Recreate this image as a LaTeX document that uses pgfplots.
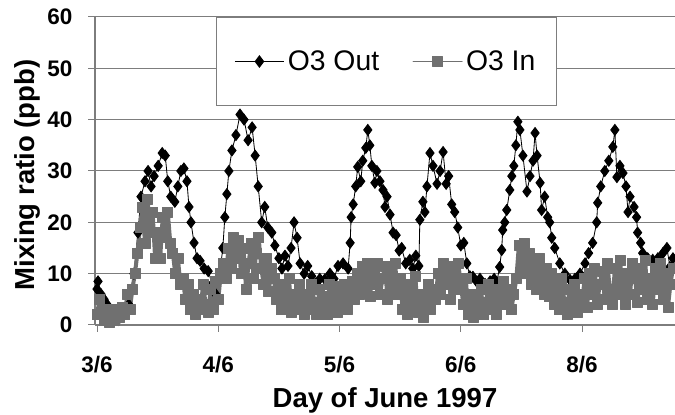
\documentclass[border=0pt]{standalone}
\usepackage{fontspec}
\setmainfont{Liberation Sans}
\usepackage{pgfplots}
\pgfplotsset{compat=1.18}
\definecolor{ingray}{RGB}{112,112,112}
\definecolor{gridgray}{RGB}{125,125,125}
\begin{document}
\begin{tikzpicture}
\useasboundingbox (-57pt,-54pt) rectangle (348pt,195pt);
\begin{axis}[
  scale only axis, width=348pt, height=184.8pt,
  xmin=-0.4, xmax=114.4, ymin=0, ymax=60,
  ytick={0,10,...,60},
  xtick={0,24,48,72,96}, xticklabels={3/6,4/6,5/6,6/6,8/6},
  axis lines*=left,
  axis line style={gridgray, line width=0.7pt},
  ymajorgrids, grid style={gridgray, line width=0.6pt},
  tick align=outside, major tick length=4pt,
  tick style={gridgray, line width=0.6pt},
  /pgf/number format/assume math mode=true,
  tick label style={font=\bfseries\fontsize{13.5}{14}\selectfont},
  xticklabel shift=11pt,
  yticklabel shift=6pt,
  xlabel={Day of June 1997},
  ylabel={Mixing ratio (ppb)},
  xlabel style={at={(axis description cs:0.5,-0.244)}, anchor=center, font=\bfseries\fontsize{16.5}{18}\selectfont},
  ylabel style={at={(axis description cs:-0.117,0.487)}, anchor=center, font=\bfseries\fontsize{16.5}{18}\selectfont},
  clip=false,
  legend columns=2,
  legend style={at={(axis description cs:0.5026,0.8555)}, anchor=center,
    draw=gridgray, line width=0.6pt, fill=white, font=\fontsize{17}{19}\selectfont,
    inner xsep=11pt, inner ysep=18pt,
    /tikz/every even column/.append style={column sep=18pt}},
  legend image code/.code={\draw[mark repeat=2,mark phase=2,#1,line width=0.7pt] plot coordinates {(0pt,0pt) (14.7pt,0pt) (29.4pt,0pt)};},
]
\addplot[black, line width=0.5pt, mark=diamond*, mark size=3.3pt, mark options={solid, fill=black}] coordinates {
(0,7) (0.2,8.5) (0.8,6) (1.4,5) (2.0,4) (3.0,2) (4.2,1) (5.3,2) (6.3,4) (7.3,10) (8.1,18) (8.7,25) (9.5,28) (10.1,30) (10.7,27) (11.3,29) (12.1,31) (12.9,33.5) (13.5,33) (14.0,28) (14.6,25) (15.4,24) (16.0,27) (16.6,30) (17.2,30.5) (17.8,28) (18.2,23) (18.6,20) (19.2,16) (19.8,13) (20.4,12.5) (21.2,11) (22.0,10.5) (22.8,8) (23.5,6) (24.3,10) (24.9,15) (25.3,21) (25.7,25.5) (26.1,30) (26.7,34) (27.5,37) (28.3,41) (29.1,40) (29.9,36) (30.7,38.5) (31.3,33) (31.9,27) (32.6,20) (33.2,23) (33.8,19) (34.6,18) (35.2,15.5) (36.0,13) (36.6,11) (37.2,13.5) (37.8,11.5) (38.4,15) (39.0,20) (39.6,17) (40.2,12) (41.0,10) (41.7,11.5) (42.5,9.5) (43.3,8) (44.1,9) (45.1,8.9) (46.1,10) (46.9,9) (47.7,11.5) (48.7,12) (49.7,11) (50.1,16) (50.3,21) (50.7,23.5) (51.2,27) (51.6,30.8) (52.2,28) (52.6,32) (53.2,34.5) (53.6,38) (54.0,35) (54.4,31) (55.0,27.7) (55.4,30) (56.0,28) (56.6,26.3) (57.0,23) (57.4,25) (58.0,21.5) (58.6,18) (59.2,17.5) (59.8,14.5) (60.3,15) (61.1,12) (61.9,12.7) (62.5,11) (63.1,13.5) (63.7,11.5) (63.9,20.5) (64.5,24) (64.9,22) (65.3,27) (65.9,33.5) (66.5,31) (67.3,27.5) (67.9,30) (68.5,33.7) (69.1,27.5) (69.6,29) (70.2,23.5) (70.8,22) (71.4,19) (72.0,15.5) (72.6,16) (73.2,12) (73.8,9.5) (74.4,9.4) (75.2,8.4) (75.8,9) (76.8,8) (77.8,8.5) (78.6,9) (79.1,8.2) (79.7,11.3) (80.1,14.6) (80.3,18.5) (80.7,20) (81.1,22.4) (81.7,26.3) (82.1,29) (82.5,31) (82.9,35) (83.3,39.6) (83.7,38) (84.3,33) (85.1,26) (85.7,29) (86.3,32) (86.7,37.4) (87.1,33) (87.7,27.7) (88.0,22.4) (88.6,25) (89.2,21) (89.6,20) (90.0,17) (90.6,15) (91.6,12) (92.6,10) (93.6,8.8) (94.6,9) (95.6,10) (96.6,12) (97.3,14) (98.1,16) (98.9,20) (99.1,23.8) (99.7,27) (100.5,30) (101.3,32) (102.1,34.7) (102.5,38) (102.9,28.8) (103.5,31) (104.1,29.6) (104.7,27) (105.1,22) (105.5,25) (106.3,23) (106.8,21) (107.0,18) (107.6,16) (108.0,14) (109.0,13) (110.0,12.7) (111.0,13) (112.0,14) (112.8,15) (113.4,11.3) (114.0,13)
};
\addlegendentry{O3 Out}
\addplot[ingray, line width=2.4pt, line join=round, line cap=round, mark=square*, mark size=3pt, mark options={solid, fill=ingray, draw=ingray, line width=0.4pt}] coordinates {
(0,2) (0.5,5) (1,3) (1.5,1) (2,3) (2.5,0.5) (3,2.5) (3.5,1) (4,3) (4.5,1.5) (5,3.5) (5.5,2) (6,6) (6.5,3) (7,7) (7.5,10) (8,14) (8.5,19) (9,23) (9.5,16) (10,24.5) (10.5,18) (11,22) (11.5,13) (12,18) (12.5,13) (13,21) (13.5,17) (14,22) (14.5,16) (15,14) (15.5,10) (16,13) (16.5,8) (17,9) (17.5,5) (18,8) (18.5,3) (19,6) (19.5,2) (20,5) (20.5,3) (21,8) (21.5,4) (22,2.5) (22.5,7) (23,3) (23.5,8.5) (24,5) (24.5,10) (25,12) (25.5,9) (26,15) (26.5,11) (27,17) (27.5,13) (28,16.5) (28.5,10) (29,15) (29.5,7) (30,12) (30.5,16) (31,9) (31.5,14) (32,17) (32.5,11) (33,8) (33.5,13) (34,6.5) (34.5,11) (35,9) (35.5,5) (36,8) (36.5,3) (37,7) (37.5,4) (38,9) (38.5,2.5) (39,6) (39.5,3) (40,8) (40.5,4) (41,2) (41.5,6) (42,3) (42.5,8) (43,4.5) (43.5,2) (44,7) (44.5,3.5) (45,5.5) (45.5,2) (46,8) (46.5,4) (47,6) (47.5,2.5) (48,7.5) (48.5,4) (49,8) (49.5,3) (50,6) (50.5,8.5) (51,5) (51.5,10) (52,6) (52.5,11.5) (53,7) (53.5,12) (54,5.5) (54.5,10) (55,8) (55.5,12) (56,6) (56.5,9) (57,11.5) (57.5,5) (58,10) (58.5,7) (59,12) (59.5,6) (60,9) (60.5,3) (61,7) (61.5,2) (62,8) (62.5,4) (63,9.5) (63.5,2.5) (64,6) (64.5,1.5) (65,5) (65.5,8) (66,3) (66.5,7) (67,5) (67.5,10) (68,6) (68.5,12) (69,8) (69.5,11.5) (70,5) (70.5,10) (71,7) (71.5,12) (72,8) (72.5,4) (73,9) (73.5,2) (74,6) (74.5,1.5) (75,5) (75.5,3) (76,7) (76.5,2) (77,4.5) (77.5,8) (78,3) (78.5,6) (79,2) (79.5,7) (80,4) (80.5,8.5) (81,5) (81.5,7) (82,3) (82.5,6) (83,9) (83.5,15.5) (84,11) (84.5,16) (85,10) (85.5,14) (86,8) (86.5,12.5) (87,7) (87.5,13) (88,9) (88.5,6) (89,11) (89.5,5.5) (90,10) (90.5,4) (91,8) (91.5,3) (92,9) (92.5,4.5) (93,2) (93.5,7) (94,3) (94.5,8) (95,2.5) (95.5,6) (96,4) (96.5,9) (97,3.5) (97.5,10) (98,6) (98.5,11) (99,4) (99.5,8) (100,10.5) (100.5,5) (101,12) (101.5,7) (102,4) (102.5,11) (103,6) (103.5,12.5) (104,8) (104.5,4) (105,10) (105.5,6) (106,12) (106.5,9) (107,4.5) (107.5,11) (108,7) (108.5,12.5) (109,5) (109.5,9) (110,4) (110.5,11) (111,7) (111.5,12) (112,5) (112.5,10) (113,3.5) (113.5,8) (114,11)
};
\addlegendentry{O3 In}
\end{axis}
\end{tikzpicture}
\end{document}
